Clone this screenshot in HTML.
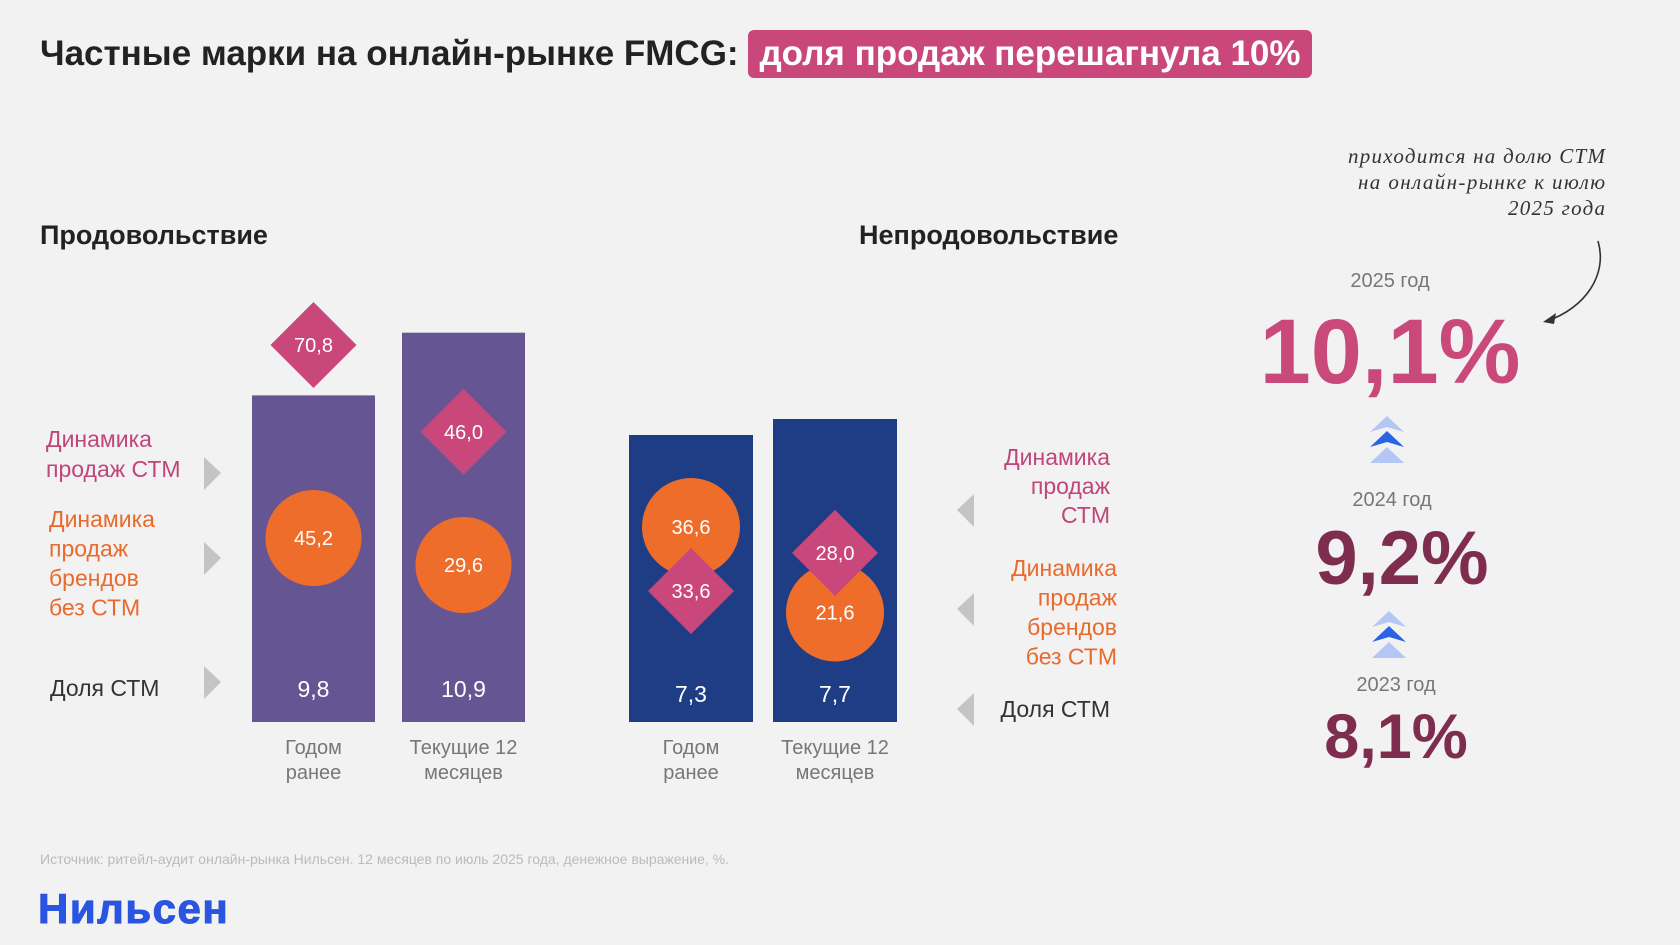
<!DOCTYPE html>
<html><head><meta charset="utf-8"><style>
html,body{margin:0;padding:0;background:#f2f2f2}
svg{display:block;font-family:"Liberation Sans",sans-serif}
</style></head><body>
<svg id="c" width="1680" height="945" viewBox="0 0 1680 945">
<rect width="1680" height="945" fill="#f2f2f2"/>
<text x="40" y="65" font-size="35" font-weight="bold" fill="#222">Частные марки на онлайн-рынке FMCG:</text>
<rect x="748" y="30" width="564" height="48" rx="6" fill="#c9477a"/>
<text x="1030" y="65" font-size="35" font-weight="bold" fill="#fff" text-anchor="middle">доля продаж перешагнула 10%</text>
<text x="40" y="244" font-size="27" font-weight="bold" fill="#222">Продовольствие</text>
<text x="859" y="244" font-size="27" font-weight="bold" fill="#222">Непродовольствие</text>
<g id="marks"></g>
<g font-size="23">
<text x="46" y="447" fill="#c0457a"><tspan x="46">Динамика</tspan><tspan x="46" dy="30">продаж СТМ</tspan></text>
<text x="49" y="527" fill="#e86a2c"><tspan x="49">Динамика</tspan><tspan x="49" dy="29.5">продаж</tspan><tspan x="49" dy="29.5">брендов</tspan><tspan x="49" dy="29.5">без СТМ</tspan></text>
<text x="50" y="696" fill="#333">Доля СТМ</text>
<polygon points="204,457 221,473 204,490" fill="#c4c4c4"/>
<polygon points="204,542 221,558 204,575" fill="#c4c4c4"/>
<polygon points="204,666 221,682 204,699" fill="#c4c4c4"/>
</g>
<g font-size="23" text-anchor="end">
<text y="465" fill="#c0457a"><tspan x="1110">Динамика</tspan><tspan x="1110" dy="29">продаж</tspan><tspan x="1110" dy="29">СТМ</tspan></text>
<text y="576" fill="#e86a2c"><tspan x="1117">Динамика</tspan><tspan x="1117" dy="29.5">продаж</tspan><tspan x="1117" dy="29.5">брендов</tspan><tspan x="1117" dy="29.5">без СТМ</tspan></text>
<text x="1110" y="717" fill="#333">Доля СТМ</text>
<polygon points="974,494 957,510 974,527" fill="#c4c4c4"/>
<polygon points="974,593 957,609 974,626" fill="#c4c4c4"/>
<polygon points="974,693 957,709 974,726" fill="#c4c4c4"/>
</g>
<g font-family="Liberation Serif,serif" font-style="italic" font-size="21" fill="#333" text-anchor="end">
<text x="1605" y="163" textLength="257" lengthAdjust="spacing">приходится на долю СТМ</text>
<text x="1605" y="189" textLength="247" lengthAdjust="spacing">на онлайн-рынке к июлю</text>
<text x="1605" y="215" textLength="97" lengthAdjust="spacing">2025 года</text>
</g>
<path d="M1598,241 C1608,275 1585,308 1547,321" fill="none" stroke="#333" stroke-width="1.6"/>
<polygon points="1543,322 1556,313 1554,324" fill="#333"/>
<g text-anchor="middle" font-weight="bold">
<text x="1390" y="287" font-size="20" font-weight="normal" fill="#777">2025 год</text>
<text x="1390" y="383" font-size="92" fill="#c94a7a">10,1%</text>
<text x="1392" y="506" font-size="20" font-weight="normal" fill="#777">2024 год</text>
<text x="1402" y="584" font-size="76" fill="#7f2d4e">9,2%</text>
<text x="1396" y="691" font-size="20" font-weight="normal" fill="#777">2023 год</text>
<text x="1396" y="758" font-size="63" fill="#7f2d4e">8,1%</text>
</g>
<g>
<polygon points="1370,432 1387,416 1404,432 1387,427" fill="#b3c6f5"/>
<polygon points="1370,447 1387,431 1404,447 1387,442" fill="#2a63e6"/>
<polygon points="1370,463 1387,447 1404,463" fill="#b3c6f5"/>
</g>
<g>
<polygon points="1372,627 1389,611 1406,627 1389,622" fill="#b3c6f5"/>
<polygon points="1372,642 1389,626 1406,642 1389,637" fill="#2a63e6"/>
<polygon points="1372,658 1389,642 1406,658" fill="#b3c6f5"/>
</g>
<text x="40" y="864" font-size="14" fill="#bbb">Источник: ритейл-аудит онлайн-рынка Нильсен. 12 месяцев по июль 2025 года, денежное выражение, %.</text>
<text x="38" y="923" font-size="42" font-weight="bold" fill="#2a55e0" letter-spacing="1.5" stroke="#2a55e0" stroke-width="1">Нильсен</text>
</svg>
<script>
const categories = [["Годом","ранее"],["Текущие 12","месяцев"]];
const foodShare = [9.8, 10.9];
const foodStmGrowth = [70.8, 46.0];
const foodBrandGrowth = [45.2, 29.6];
const nonfoodShare = [7.3, 7.7];
const nonfoodStmGrowth = [33.6, 28.0];
const nonfoodBrandGrowth = [36.6, 21.6];

const NS="http://www.w3.org/2000/svg";
const g=document.getElementById('marks');
function mk(t,a){const e=document.createElementNS(NS,t);for(const k in a)e.setAttribute(k,a[k]);g.appendChild(e);return e;}
function fmt(v){return v.toFixed(1).replace('.',',');}
const base=722;
const panels=[
 {name:'food',xs:[252,402],w:123,color:'#665593',share:foodShare,stm:foodStmGrowth,br:foodBrandGrowth,labY:697,
  hScale:v=>(v-4.07)*57, stmY:v=>345+(70.8-v)*3.5, brY:v=>538+(45.2-v)*1.73, r:48},
 {name:'nonfood',xs:[629,773],w:124,color:'#1f3d85',share:nonfoodShare,stm:nonfoodStmGrowth,br:nonfoodBrandGrowth,labY:702,
  hScale:v=>(v-0.125)*40, stmY:v=>591+(v-33.6)*6.8, brY:v=>527+(36.6-v)*5.7, r:49}
];
panels.forEach(p=>{
 p.share.forEach((v,i)=>{
  const x=p.xs[i], h=p.hScale(v), cx=x+p.w/2;
  const b=mk('rect',{x:x,y:base-h,width:p.w,height:h,fill:p.color});
  
  
  const t=mk('text',{x:cx,y:p.labY,'font-size':23,fill:'#fff','text-anchor':'middle'});
  t.textContent=fmt(v);
  
  
  const cat=mk('text',{x:cx,y:754,'font-size':20,fill:'#777','text-anchor':'middle'});
  cat.innerHTML='<tspan x="'+cx+'">'+categories[i][0]+'</tspan><tspan x="'+cx+'" dy="25">'+categories[i][1]+'</tspan>';
  
  
 });
 p.br.forEach((v,i)=>{
  const cx=p.xs[i]+p.w/2, cy=p.brY(v);
  const c=mk('circle',{cx:cx,cy:cy,r:p.r,fill:'#ee6d2b'});
  
  
  const t=mk('text',{x:cx,y:cy+7,'font-size':20,fill:'#fff','text-anchor':'middle'});
  t.textContent=fmt(v);
  
  
 });
 p.stm.forEach((v,i)=>{
  const cx=p.xs[i]+p.w/2, cy=p.stmY(v), d=43;
  const dm=mk('polygon',{points:[cx,cy-d,cx+d,cy,cx,cy+d,cx-d,cy].join(','),fill:'#c9477a'});
  
  
  const t=mk('text',{x:cx,y:cy+7,'font-size':20,fill:'#fff','text-anchor':'middle'});
  t.textContent=fmt(v);
  
  
 });
});
</script>
</body></html>
